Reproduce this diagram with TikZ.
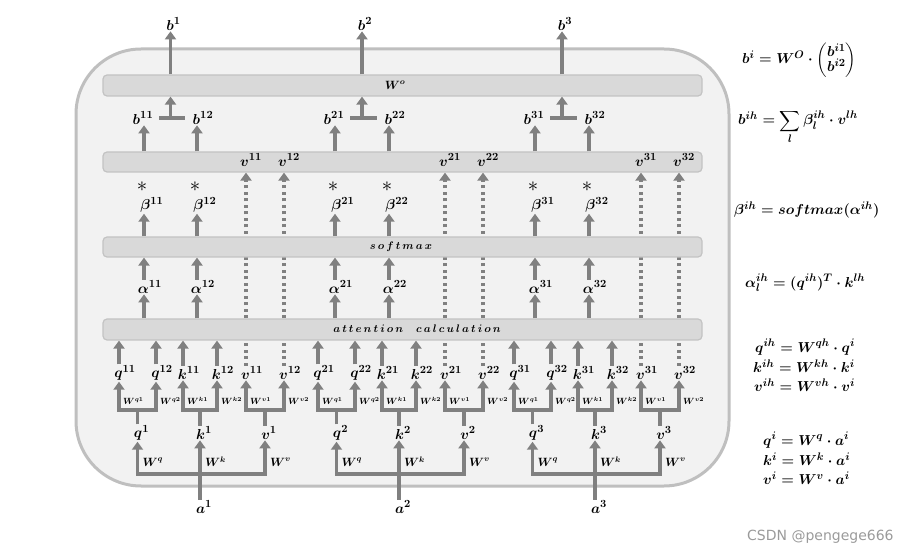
\documentclass[tikz,border=0pt]{standalone}
\usepackage{amsmath}
\usepackage{fontspec}
\newfontfamily\wmfont{DejaVu Sans}
\usetikzlibrary{arrows.meta}
\DeclareMathSizes{14.5}{14.5}{11}{8}
\definecolor{ag}{HTML}{808080}
\definecolor{barfill}{HTML}{D9D9D9}
\definecolor{barline}{HTML}{C3C3C3}
\definecolor{boxfill}{HTML}{F2F2F2}
\definecolor{boxline}{HTML}{BFBFBF}
\definecolor{wmgray}{HTML}{9A9A9A}
\pgfdeclarelayer{bg}
\pgfdeclarelayer{mid}
\pgfsetlayers{bg,mid,main}
\begin{document}
\begin{tikzpicture}[x=1pt,y=-1pt,
  arr/.style={draw=ag,line width=3.8pt,-{Triangle[width=11pt,length=8pt]}},
  ln/.style={draw=ag,line width=3.8pt},
  dotln/.style={draw=ag,line width=3.8pt,dash pattern=on 3pt off 3.5pt},
  dotarr/.style={dotln,-{Triangle[width=11pt,length=8pt]}},
  bar/.style={draw=barline,fill=barfill,line width=1.2pt,rounded corners=4pt,minimum width=599pt,inner sep=0pt},
  lab/.style={font=\boldmath\fontsize{14.5}{16}\selectfont,inner sep=1pt},
  wsm/.style={font=\boldmath\fontsize{9}{10}\selectfont,inner sep=0pt,anchor=west},
  wmd/.style={font=\boldmath\fontsize{11.5}{12}\selectfont,inner sep=0pt,anchor=west},
  barlab/.style={font=\boldmath\fontsize{11}{13}\selectfont,inner sep=0pt},
  eq/.style={font=\boldmath\fontsize{14.5}{17}\selectfont,inner sep=0pt,anchor=west},
  ast/.style={font=\fontsize{22}{22}\selectfont,inner sep=0pt},
]
\useasboundingbox (0,0) rectangle (911,553);
\begin{pgfonlayer}{bg}
\draw[draw=boxline,fill=boxfill,line width=3pt,rounded corners=65pt] (76,49) rectangle (729,486);
\end{pgfonlayer}

% bars
\node[bar,minimum height=21pt] (wo) at (402.5,85.5) {};
\node[bar,minimum height=20pt] (vbar) at (402.5,162) {};
\node[bar,minimum height=20pt] (sm) at (402.5,247) {};
\node[bar,minimum height=21pt] (att) at (402.5,329.5) {};
\node[barlab,font=\boldmath\fontsize{11.5}{13}\selectfont] (wolab) at (395,85) {$W^o$};
\node[barlab] (smlab) at (401,247) {$s\,o\,f\,t\,m\,a\,x$};
\node[barlab] (attlab) at (417,329) {$a\,t\,t\,e\,n\,t\,i\,o\,n\hspace{13pt}c\,a\,l\,c\,u\,l\,a\,t\,i\,o\,n$};

% lower part: a -> q,k,v -> heads
\foreach \i/\g in {1/119,2/318,3/514}{
  \foreach \ltr/\dx/\h in {q/0/1,q/37/2,k/64/1,k/98/2,v/127/1,v/165/2}{
    \coordinate (c\ltr\i\h) at (\g+\dx,0);
    \node[lab] (\ltr\i\h) at (\g+\dx+6,373) {$\ltr^{\i\h}$};
    \node[wsm] (w\ltr\i\h) at (\g+\dx+4,401) {$W^{\ltr\h}$};
  }
  \node[lab] (q\i) at (\g+22.5,433) {$q^{\i}$};
  \node[lab] (k\i) at (\g+85,433) {$k^{\i}$};
  \node[lab] (v\i) at (\g+150,433) {$v^{\i}$};
  \node[lab] (a\i) at (\g+85,507) {$a^{\i}$};
  \node[wmd] (wq\i) at (\g+23.5,462) {$W^q$};
  \node[wmd] (wk\i) at (\g+86,462) {$W^k$};
  \node[wmd] (wv\i) at (\g+151,462) {$W^v$};
  \coordinate (ba\i) at (\g+81,474);
  \draw[ln] ([xshift=-4pt]a\i.north) -- (ba\i);
  \draw[arr] (ba\i) -| ([xshift=-4pt]q\i.south);
  \draw[arr] (ba\i) -| ([xshift=-4pt]v\i.south);
  \draw[arr] (ba\i) -- ([xshift=-4pt]k\i.south);
  \foreach \ltr/\m in {q/18.5,k/81,v/146}{
    \coordinate (br\ltr\i) at (\g+\m,410);
    \draw[ln] ([xshift=-4pt]\ltr\i.north) -- (br\ltr\i);
    \draw[arr] (br\ltr\i) -| (c\ltr\i1 |- \ltr\i1.south);
    \draw[arr] (br\ltr\i) -| (c\ltr\i2 |- \ltr\i2.south);
  }
  \foreach \ltr in {q,k}{
    \foreach \h in {1,2}{
      \draw[arr] (c\ltr\i\h |- \ltr\i\h.north) -- (c\ltr\i\h |- att.south);
    }
  }
  \foreach \h/\dx in {1/127,2/165}{
    \draw[dotln] (cv\i\h |- v\i\h.north) -- (cv\i\h |- att.south);
    \node[lab] (vt\i\h) at (\g+\dx+5,160) {$v^{\i\h}$};
  }
}

% dotted value paths (behind bars)
\begin{pgfonlayer}{mid}
\foreach \i in {1,2,3}{
  \foreach \h in {1,2}{
    \draw[dotarr] (cv\i\h |- att.north) -- (cv\i\h |- vbar.south);
  }
}
\end{pgfonlayer}

% upper part
\foreach \i/\xa/\xb in {1/144/197,2/335/389,3/535/589}{
  \pgfmathsetmacro\xm{(\xa+\xb)/2}
  \foreach \h/\x in {1/\xa,2/\xb}{
    \coordinate (ca\i\h) at (\x,0);
    \node[lab] (al\i\h) at (\x+6,287) {$\alpha^{\i\h}$};
    \node[lab] (be\i\h) at (\x+8,205) {$\beta^{\i\h}$};
    \node[ast] (as\i\h) at (\x-2,187) {$\ast$};
    \draw[arr] (ca\i\h |- att.north) -- (ca\i\h |- al\i\h.south);
    \draw[arr] (ca\i\h |- al\i\h.north) -- (ca\i\h |- sm.south);
    \draw[arr] (ca\i\h |- sm.north) -- (ca\i\h |- be\i\h.south);
  }
  \node[lab] (b\i1) at (\xa-1,118) {$b^{\i1}$};
  \node[lab] (b\i2) at (\xb+6,118) {$b^{\i2}$};
  \draw[arr] (ca\i1 |- vbar.north) -- (ca\i1 |- b\i1.south);
  \draw[arr] (ca\i2 |- vbar.north) -- (ca\i2 |- b\i2.south);
  \coordinate (tl\i) at (\xa+15,118);
  \coordinate (tr\i) at (\xb-12,118);
  \coordinate (tm\i) at (\xm,118);
  \draw[ln] (tl\i) -- (tr\i);
  \draw[arr] (tm\i) -- (tm\i |- wo.south);
  \node[lab] (bo\i) at (\xm+3,24) {$b^{\i}$};
  \draw[arr] (tm\i |- wo.north) -- (tm\i |- bo\i.south);
}

% equations
\node[eq] (e1) at (742,60) {$b^i = W^O\cdot\begin{pmatrix}b^{i1}\\[-3pt] b^{i2}\end{pmatrix}$};
\node[eq] (e2) at (738,127) {$b^{ih} = \displaystyle\sum_{l}\beta_l^{ih}\cdot v^{lh}$};
\node[eq] (e3) at (734,210) {$\beta^{ih} = softmax(\alpha^{ih})$};
\node[eq] (e4) at (745,283) {$\alpha_l^{ih} = (q^{ih})^T\cdot k^{lh}$};
\node[eq] (e5) at (755,347) {$q^{ih} = W^{qh}\cdot q^i$};
\node[eq] (e6) at (753,366) {$k^{ih} = W^{kh}\cdot k^i$};
\node[eq] (e7) at (754,385) {$v^{ih} = W^{vh}\cdot v^i$};
\node[eq] (e8) at (763,440) {$q^i = W^q\cdot a^i$};
\node[eq] (e9) at (763,459) {$k^i = W^k\cdot a^i$};
\node[eq] (e10) at (763,478) {$v^i = W^v\cdot a^i$};

\node[font=\wmfont\fontsize{14}{15}\selectfont,text=wmgray,anchor=west,inner sep=0pt] (wm) at (747,537) {CSDN @pengege666};
\end{tikzpicture}
\end{document}
